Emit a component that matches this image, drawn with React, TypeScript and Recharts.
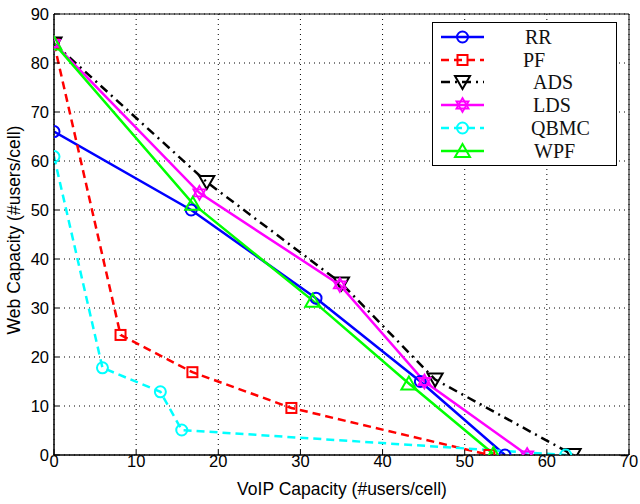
import React from 'react';
import { LineChart, Line, XAxis, YAxis, CartesianGrid, Legend } from 'recharts';

const seriesNames = ['RR', 'PF', 'ADS', 'LDS', 'QBMC', 'WPF'];
const rrX = [0, 16.7, 31.9, 44.6, 54.9];
const rrY = [66, 50, 32, 15, 0];
const pfX = [0, 8.1, 16.85, 28.9, 53.0];
const pfY = [84, 24.5, 16.9, 9.6, 0];
const adsX = [0, 18.6, 35, 46.4, 63.2];
const adsY = [84, 55.7, 35, 15.4, 0];
const ldsX = [0, 17.7, 34.8, 45.1, 57.6];
const ldsY = [84, 53.5, 34.7, 15, 0];
const qbmcX = [0, 5.9, 12.95, 15.55, 62.3];
const qbmcY = [60.9, 17.8, 12.9, 5.1, 0];
const wpfX = [0, 16.9, 31.5, 43.2, 53.5];
const wpfY = [84, 51.3, 31.5, 14.6, 0.2];
const xTicks = [0, 10, 20, 30, 40, 50, 60, 70];
const yTicks = [0, 10, 20, 30, 40, 50, 60, 70, 80, 90];

const zip = (xs: number[], ys: number[]) => xs.map((x, i) => ({ x, y: ys[i] }));

type Marker = 'circle' | 'square' | 'tdown' | 'hex' | 'tup';

const colors = ['#0000ff', '#ff0000', '#000000', '#ff00ff', '#00ffff', '#00ff00'];
const dashes = [undefined, '8 5', '9 5 2 5', undefined, '8 5', undefined];
const markers: Marker[] = ['circle', 'square', 'tdown', 'hex', 'circle', 'tup'];
const datasets = [zip(rrX, rrY), zip(pfX, pfY), zip(adsX, adsY), zip(ldsX, ldsY), zip(qbmcX, qbmcY), zip(wpfX, wpfY)];

function drawMarker(kind: Marker, cx: number, cy: number, color: string, key?: any) {
  const common = { fill: 'none', stroke: color, strokeWidth: 2 } as any;
  if (kind === 'circle') return <circle key={key} cx={cx} cy={cy} r={5.5} {...common} />;
  if (kind === 'square') return <rect key={key} x={cx - 5} y={cy - 5} width={10} height={10} {...common} />;
  if (kind === 'tdown')
    return <polygon key={key} points={`${cx - 7.5},${cy - 6} ${cx + 7.5},${cy - 6} ${cx},${cy + 7}`} {...common} />;
  if (kind === 'tup')
    return <polygon key={key} points={`${cx - 7.5},${cy + 6} ${cx + 7.5},${cy + 6} ${cx},${cy - 7}`} {...common} />;
  const r = 7;
  const p = (a: number) => `${cx + r * Math.cos(a)},${cy + r * Math.sin(a)}`;
  const t1 = [-90, 30, 150].map((d) => p((d * Math.PI) / 180)).join(' ');
  const t2 = [90, 210, 330].map((d) => p((d * Math.PI) / 180)).join(' ');
  return (
    <g key={key}>
      <polygon points={t1} {...common} strokeWidth={1.8} />
      <polygon points={t2} {...common} strokeWidth={1.8} />
    </g>
  );
}

const legendTextX = [93, 91, 101, 101, 99, 102];
const legendRowY = [15, 38, 60, 83, 106, 129];

function LegendBox() {
  return (
    <svg width={186} height={144} style={{ display: 'block' }}>
      <rect x={0.5} y={0.5} width={184} height={143} fill="#fff" stroke="#000" strokeWidth={1} />
      {seriesNames.map((n, i) => (
        <g key={n}>
          <line x1={9} x2={52} y1={legendRowY[i]} y2={legendRowY[i]} stroke={colors[i]} strokeWidth={2.5} strokeDasharray={dashes[i]} />
          {drawMarker(markers[i], 30.5, legendRowY[i], colors[i])}
          <text x={legendTextX[i]} y={legendRowY[i] + 7} fontFamily="'Liberation Serif', serif" fontSize={20} fill="#111">
            {n}
          </text>
        </g>
      ))}
    </svg>
  );
}

const tickFont = "'Liberation Sans', Arial, sans-serif";

const XTick = (p: any) => (
  <text x={p.x} y={p.y + 17} textAnchor="middle" fontFamily={tickFont} fontSize={16.5} fill="#000">
    {p.payload.value}
  </text>
);
const YTick = (p: any) => (
  <text x={p.x} y={p.y + 6} textAnchor="end" fontFamily={tickFont} fontSize={16.5} fill="#000">
    {p.payload.value}
  </text>
);

export default function App() {
  return (
    <div style={{ position: 'absolute', left: 0, top: 0, width: 640, height: 504, background: '#fff' }}>
      <LineChart width={640} height={504} margin={{ top: 0, right: 0, bottom: 0, left: 0 }}>
        <CartesianGrid stroke="#000" strokeDasharray="1 4" strokeWidth={1} xAxisId="b" yAxisId="l" horizontalValues={yTicks} verticalValues={xTicks} />
        <XAxis
          xAxisId="b"
          type="number"
          dataKey="x"
          domain={[0, 70]}
          ticks={xTicks}
          height={49}
          stroke="#000"
          axisLine={{ stroke: '#000', strokeWidth: 1.5 }}
          tickLine={{ stroke: '#000' }}
          tickSize={-5}
          tickMargin={0}
          tick={<XTick />}
          allowDataOverflow
          label={() => (
            <text x={342} y={495} textAnchor="middle" fontFamily={tickFont} fontSize={17.5} fill="#000">
              VoIP Capacity (#users/cell)
            </text>
          )}
        />
        <XAxis
          xAxisId="t"
          orientation="top"
          type="number"
          domain={[0, 70]}
          ticks={xTicks}
          height={14}
          axisLine={{ stroke: '#000', strokeWidth: 1 }}
          tickLine={{ stroke: '#000' }}
          tickSize={-5}
          tick={false}
        />
        <YAxis
          yAxisId="l"
          type="number"
          dataKey="y"
          domain={[0, 90]}
          ticks={yTicks}
          width={54}
          axisLine={{ stroke: '#000', strokeWidth: 1.5 }}
          tickLine={{ stroke: '#000' }}
          tickSize={-5}
          tickMargin={10}
          tick={<YTick />}
          allowDataOverflow
          label={() => (
            <text x={20} y={230} transform="rotate(-90 20 230)" textAnchor="middle" fontFamily={tickFont} fontSize={17.5} fill="#000">
              Web Capacity (#users/cell)
            </text>
          )}
        />
        <YAxis
          yAxisId="r"
          orientation="right"
          type="number"
          domain={[0, 90]}
          ticks={yTicks}
          width={11}
          axisLine={{ stroke: '#000', strokeWidth: 1 }}
          tickLine={{ stroke: '#000' }}
          tickSize={-5}
          tick={false}
        />
        <Legend
          layout="vertical"
          align="center"
          verticalAlign="middle"
          wrapperStyle={{ position: 'absolute', left: 432, top: 22, width: 186, height: 144 }}
          content={() => <LegendBox />}
        />
        {seriesNames.map((n, i) => (
          <Line
            key={n}
            name={n}
            xAxisId="b"
            yAxisId="l"
            data={datasets[i]}
            dataKey="y"
            type="linear"
            stroke={colors[i]}
            strokeWidth={2.5}
            strokeDasharray={dashes[i]}
            isAnimationActive={false}
            dot={(p: any) => drawMarker(markers[i], p.cx, p.cy, colors[i], `${n}-${p.index}`)}
            activeDot={false}
          />
        ))}
      </LineChart>
    </div>
  );
}
